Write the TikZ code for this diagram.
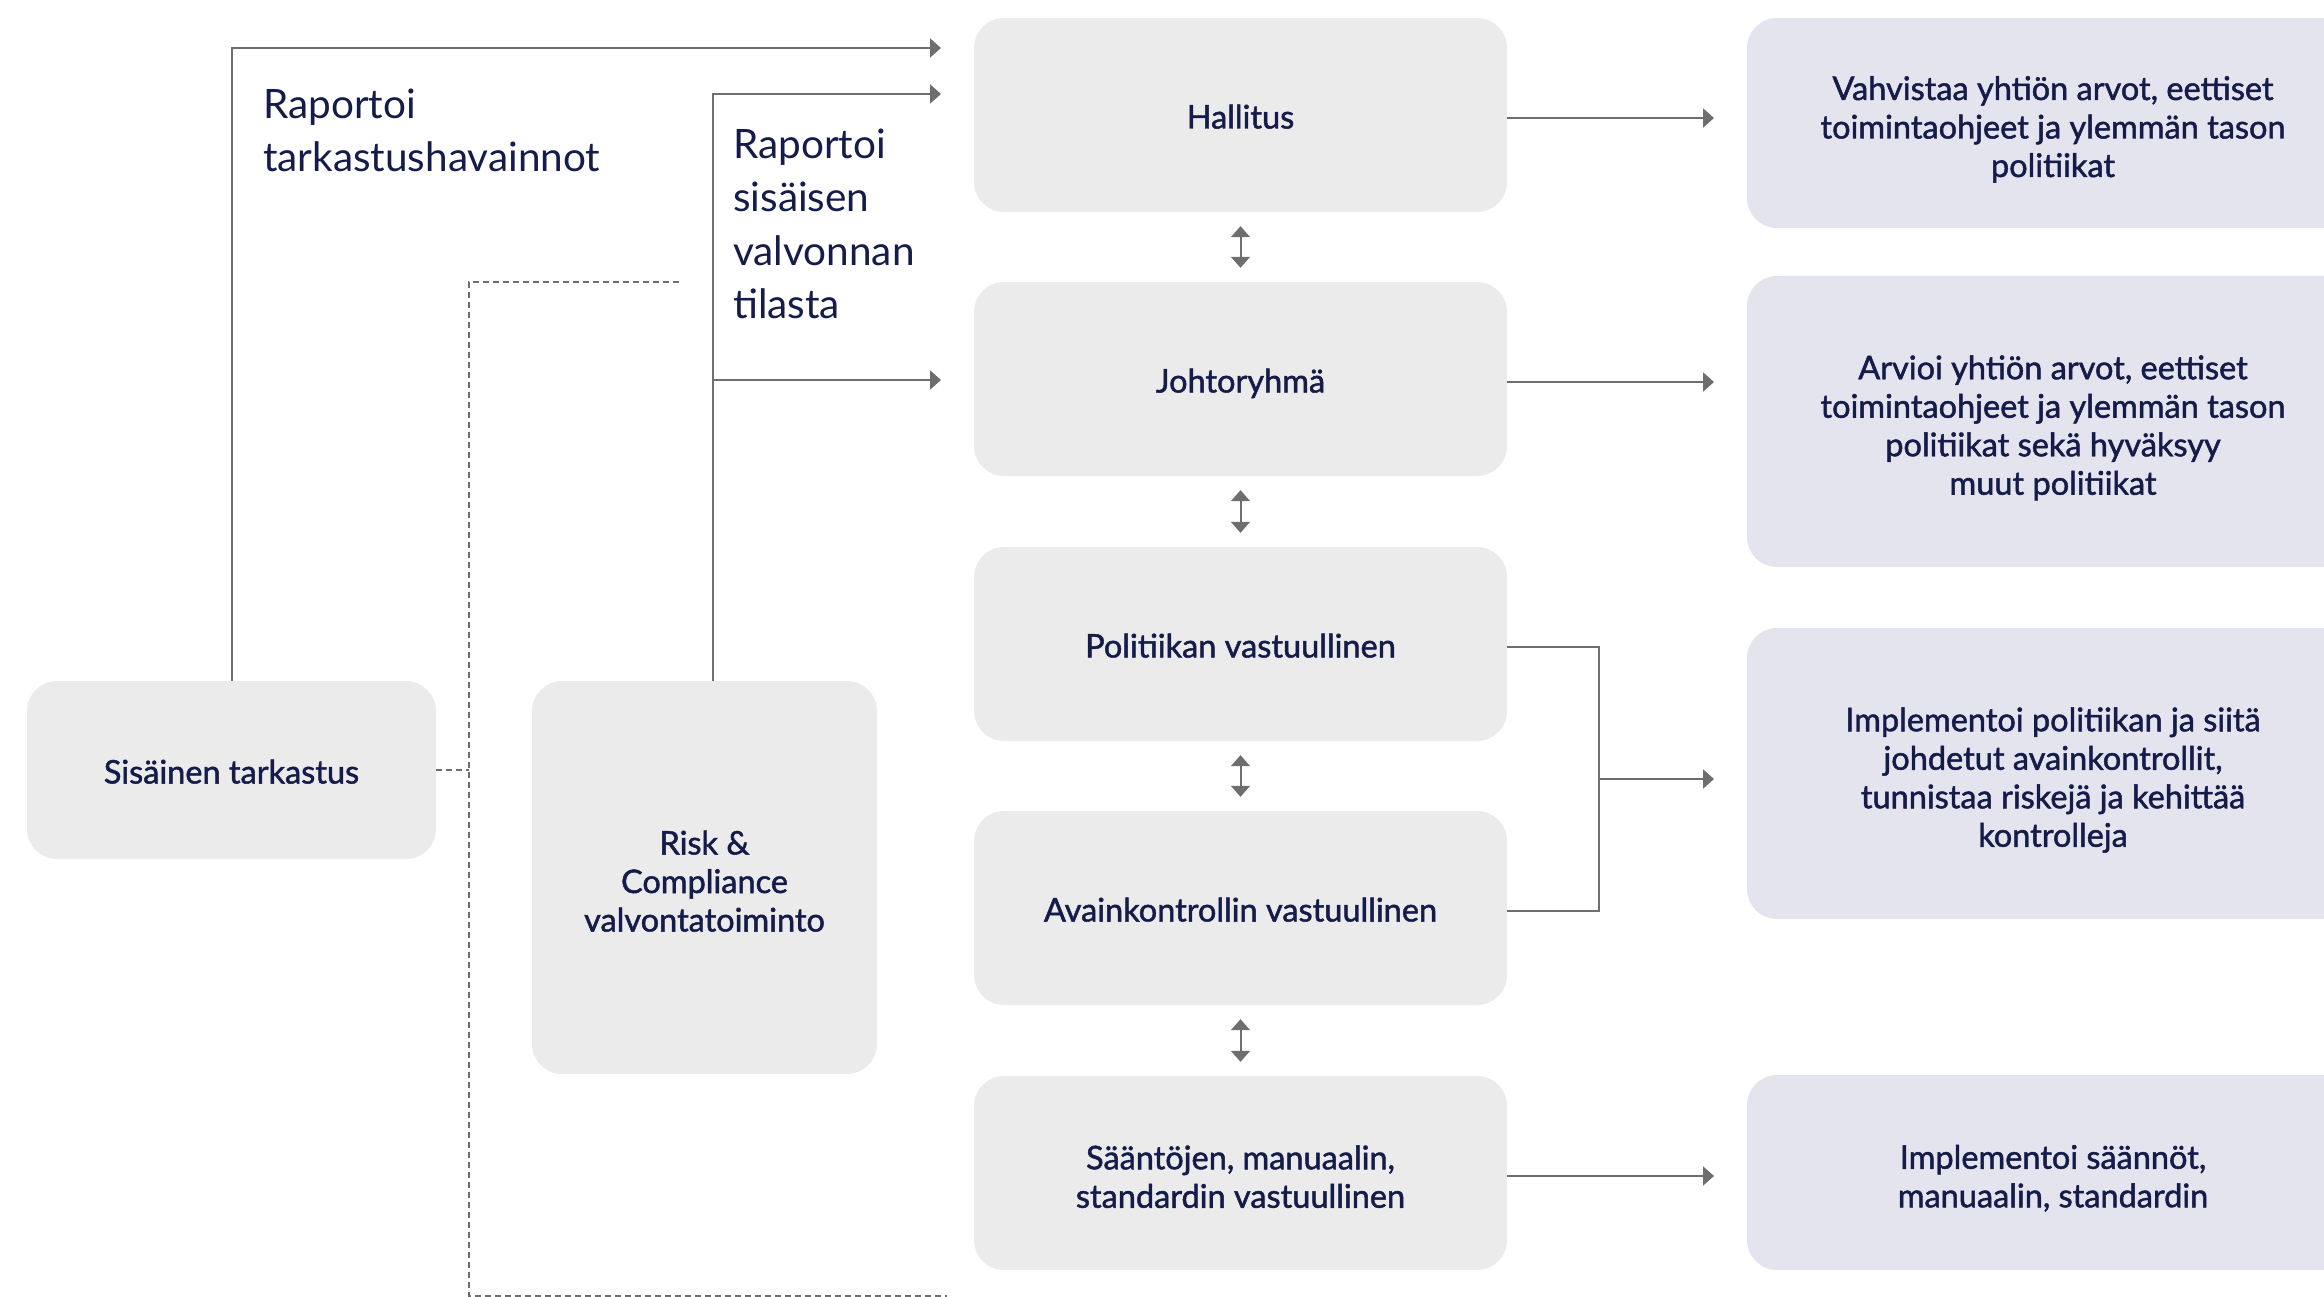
\documentclass[tikz,border=0pt]{standalone}
\usepackage{fontspec}
\setmainfont{Lato}
\newfontfamily\boxfont{Lato}[FakeBold=1.5]
\usetikzlibrary{arrows.meta}

\definecolor{ink}{HTML}{151C4A}
\definecolor{boxgray}{HTML}{EBEBEB}
\definecolor{boxlav}{HTML}{E4E4EE}
\definecolor{linegray}{HTML}{6E6E6E}

% strut for the first line of a multi-line box text
\newcommand{\firstlinestrut}{\rule{0pt}{39pt}}

\tikzset{
  roleblock/.style={rectangle, rounded corners=30pt, fill=boxgray, text=ink,
    minimum width=533pt, minimum height=194pt, inner sep=0pt, align=center,
    font=\boxfont\fontsize{32.5}{38.5}\selectfont,
    % fixed line height and depth keep every text block centred alike
    execute at begin node={\rule{0pt}{35pt}},
    execute at end node={\rule[-8pt]{0pt}{8pt}}},
  dutybox/.style={roleblock, fill=boxlav, minimum width=612pt},
  reportlabel/.style={text=ink, inner sep=0pt, align=left,
    font=\fontsize{40.5}{53.5}\selectfont},
  conn/.style={draw=linegray, line width=2pt, -{Triangle[length=11pt,width=19pt]}},
  plainline/.style={draw=linegray, line width=2pt},
  both/.style={draw=linegray, line width=2pt,
    {Triangle[length=11pt,width=19pt]}-{Triangle[length=11pt,width=19pt]}},
  dashline/.style={draw=linegray, line width=2pt, dash pattern=on 6pt off 4pt}
}

\begin{document}
\begin{tikzpicture}[x=1pt, y=-1pt]
\useasboundingbox (0,0) rectangle (2324,1297);
\begin{scope}
\clip (0,0) rectangle (2324,1297);

% main chain of roles
\node[roleblock] (hal) at (1240.5,115) {Hallitus};
\node[roleblock] (joh) at (1240.5,379) {Johtoryhmä};
\node[roleblock] (pol) at (1240.5,644) {Politiikan vastuullinen};
\node[roleblock] (avk) at (1240.5,908) {Avainkontrollin vastuullinen};
\node[roleblock] (saa) at (1240.5,1173) {\firstlinestrut Sääntöjen, manuaalin,\\standardin vastuullinen};

% oversight functions
\node[roleblock, minimum width=409pt, minimum height=178pt] (sis) at (231.5,770) {Sisäinen tarkastus};
\node[roleblock, minimum width=345pt, minimum height=393pt] (rc) at (704.5,877.5) {\firstlinestrut Risk \&\\Compliance\\valvontatoiminto};

% duties
\node[dutybox, minimum height=210pt] (d1) at (2053,123)
  {\firstlinestrut Vahvistaa yhtiön arvot, eettiset\\toimintaohjeet ja ylemmän tason\\politiikat};
\node[dutybox, minimum height=291pt] (d2) at (2053,421.5)
  {\firstlinestrut Arvioi yhtiön arvot, eettiset\\toimintaohjeet ja ylemmän tason\\politiikat sekä hyväksyy\\muut politiikat};
\node[dutybox, minimum height=291pt] (d3) at (2053,773.5)
  {\firstlinestrut Implementoi politiikan ja siitä\\johdetut avainkontrollit,\\tunnistaa riskejä ja kehittää\\kontrolleja};
\node[dutybox, minimum height=195pt] (d4) at (2053,1172.5)
  {\firstlinestrut Implementoi säännöt,\\manuaalin, standardin};

% helper points
\coordinate (t1) at (941,48);
\coordinate (t2) at (941,94);
\coordinate (t3) at (941,380);
\coordinate (rcup) at ([xshift=8.5pt]rc.north);
\coordinate (tipx) at (1714,0);
\coordinate (fork) at (1599,779);
\coordinate (dtop) at (679,282);
\coordinate (dcorner) at (469,282);
\coordinate (dbot) at (469,1296);
\coordinate (dend) at (947,1296);

% exits on the right side of the chain boxes, a little below centre
\foreach \b in {hal, joh, pol, avk, saa}
  \coordinate (\b-out) at ([yshift=-3pt]\b.east);

% reporting lines
\draw[conn] (sis.north) |- (t1);
\draw[conn] (rcup) |- (t2);
\draw[conn] (rcup |- t3) -- (t3);

% chain to duties
\draw[conn] (hal-out) -- (hal-out -| tipx);
\draw[conn] (joh-out) -- (joh-out -| tipx);
\draw[plainline] (pol-out) -| (fork) |- (avk-out);
\draw[conn] (fork) -- (fork -| tipx);
\draw[conn] (saa-out) -- (saa-out -| tipx);

% two-way links in the chain
\foreach \a/\b in {hal/joh, joh/pol, pol/avk, avk/saa}
  \draw[both] ([yshift=-14pt]\a.south) -- ([yshift=14pt]\b.north);

% independent assurance boundary
\draw[dashline] (dtop) -- (dcorner) -- (dbot) -- (dend);
\draw[dashline] (sis.east) -- (sis.east -| dcorner);

% line labels (anchored at the baseline of their last line)
\node[reportlabel, anchor=base west] (lab1) at (263,172) {Raportoi\\tarkastushavainnot};
\node[reportlabel, anchor=base west] (lab2) at (733,319) {Raportoi\\sisäisen\\valvonnan\\tilasta};

\end{scope}
\end{tikzpicture}
\end{document}
